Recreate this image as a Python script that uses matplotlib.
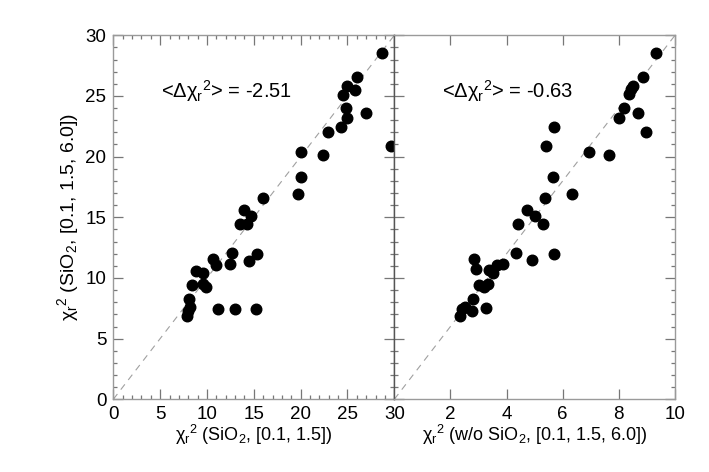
import matplotlib
matplotlib.use("Agg")
import matplotlib.pyplot as plt
from matplotlib.ticker import MultipleLocator, NullLocator

plt.rcParams['font.family'] = ['Liberation Sans', 'DejaVu Sans']
plt.rcParams['mathtext.fontset'] = 'custom'
plt.rcParams['mathtext.rm'] = 'Liberation Sans'
plt.rcParams['mathtext.it'] = 'Liberation Sans'
plt.rcParams['mathtext.bf'] = 'Liberation Sans:bold'

# Left panel: chi2 (SiO2, [0.1,1.5]) vs chi2 (SiO2, [0.1,1.5,6.0])
x_left = [28.64, 25.97, 24.98, 25.83, 24.51, 24.87, 27.0, 24.98, 24.3, 22.91,
          29.67, 20.07, 22.35, 20.07, 19.68, 16.01, 13.92, 14.66, 13.55, 14.3,
          10.6, 10.99, 12.67, 12.42, 14.45, 15.3, 8.79, 9.54, 8.43, 9.57,
          9.93, 8.08, 8.19, 7.97, 7.9, 11.17, 12.96, 15.23]
y_left = [28.57, 26.6, 25.83, 25.52, 25.09, 23.99, 23.6, 23.19, 22.47, 22.04,
          20.91, 20.41, 20.14, 18.35, 16.95, 16.57, 15.63, 15.14, 14.43, 14.43,
          11.57, 11.1, 12.04, 11.15, 11.43, 12.0, 10.6, 10.41, 9.42, 9.48,
          9.23, 8.24, 7.58, 7.3, 6.89, 7.47, 7.47, 7.47]

# Right panel: chi2 (w/o SiO2, [0.1,1.5,6.0]) vs chi2 (SiO2, [0.1,1.5,6.0])
x_right = [9.33, 8.87, 8.49, 8.42, 8.36, 8.19, 7.99, 8.68, 8.96, 5.70,
           5.42, 6.93, 7.64, 5.64, 6.32, 5.36, 4.74, 5.02, 4.42, 5.31,
           4.32, 4.91, 5.69, 2.85, 2.90, 3.38, 3.53, 3.67, 3.86, 3.02,
           3.19, 3.33, 2.82, 3.26, 2.41, 2.53, 2.77, 2.35]
y_right = [28.57, 26.6, 25.83, 25.55, 25.14, 23.99, 23.19, 23.6, 22.04, 22.47,
           20.91, 20.41, 20.14, 18.35, 16.95, 16.57, 15.63, 15.14, 14.43, 14.43,
           12.06, 11.46, 12.0, 11.57, 10.74, 10.63, 10.44, 11.1, 11.18, 9.4,
           9.26, 9.48, 8.24, 7.5, 7.47, 7.61, 7.25, 6.89]

ann_left = r'<$\Delta\chi_{\rm r}{}^{2}$> = -2.51'
ann_right = r'<$\Delta\chi_{\rm r}{}^{2}$> = -0.63'
xlabel_left = r'$\chi_{\rm r}{}^{2}$ (SiO$_2$, [0.1, 1.5])'
xlabel_right = r'$\chi_{\rm r}{}^{2}$ (w/o SiO$_2$, [0.1, 1.5, 6.0])'
ylabel = r'$\chi_{\rm r}{}^{2}$ (SiO$_2$, [0.1, 1.5, 6.0])'

fig = plt.figure(figsize=(7.09, 4.72), dpi=100)
W, H = 709, 472
x0, xm, x1 = 113.3, 394.3, 675.0
ytop, ybot = 35.3, 399.3
axL = fig.add_axes([x0 / W, 1 - ybot / H, (xm - x0) / W, (ybot - ytop) / H])
axR = fig.add_axes([xm / W, 1 - ybot / H, (x1 - xm) / W, (ybot - ytop) / H])

spine_col = '#9a9a9a'
tick_col = '#777777'
for ax in (axL, axR):
    ax.set_ylim(0, 30)
    for s in ax.spines.values():
        s.set_color(spine_col)
        s.set_linewidth(1.0)
    ax.tick_params(which='both', direction='in', top=True, right=True,
                   color=tick_col, labelsize=13.5, width=0.9, pad=5)
    ax.tick_params(which='major', length=7)
    ax.tick_params(which='minor', length=3)
    ax.yaxis.set_major_locator(MultipleLocator(5))
    ax.yaxis.set_minor_locator(MultipleLocator(1))

axL.spines['right'].set_color('#555555')
axR.spines['left'].set_color('#555555')

axL.set_xlim(0, 30)
axL.xaxis.set_major_locator(MultipleLocator(5))
axL.xaxis.set_minor_locator(MultipleLocator(1))
axR.set_xlim(0, 10)
axR.set_xticks([2, 4, 6, 8, 10])
axR.xaxis.set_minor_locator(NullLocator())
axR.tick_params(axis='y', labelleft=False)

axL.plot([0, 30], [0, 30], ls=(0, (6, 5)), color='#a0a0a0', lw=0.8, zorder=1)
axR.plot([0, 10], [0, 30], ls=(0, (6, 5)), color='#a0a0a0', lw=0.8, zorder=1)

axL.plot(x_left, y_left, 'o', color='black', ms=7.6, mec='black', clip_on=False, zorder=3)
axR.plot(x_right, y_right, 'o', color='black', ms=7.6, mec='black', clip_on=False, zorder=3)

ann_y = (ybot - 91) / (ybot - ytop) * 30
axL.text((161 - x0) / (xm - x0) * 30, ann_y, ann_left, fontsize=14.5, va='center')
axR.text((441.7 - xm) / (x1 - xm) * 10, ann_y, ann_right, fontsize=14.5, va='center')

axL.set_xlabel(xlabel_left, fontsize=13, labelpad=0)
axR.set_xlabel(xlabel_right, fontsize=13, labelpad=0)
axL.set_ylabel(ylabel, fontsize=14, labelpad=3)

fig.savefig('out.png', dpi=100)
